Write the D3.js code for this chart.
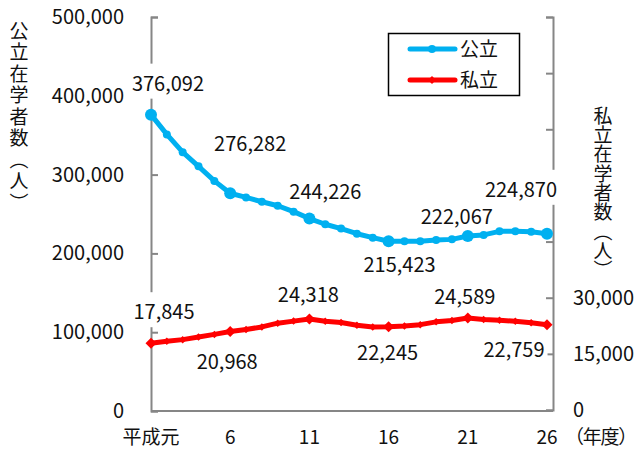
<!DOCTYPE html>
<html>
<head>
<meta charset="utf-8">
<script src="https://cdn.jsdelivr.net/npm/d3@7"></script>
<style>
  body { margin: 0; background: #fff; }
  svg { font-family: "Noto Sans CJK JP", "Noto Sans", sans-serif; }
</style>
</head>
<body>
<svg id="chart" width="636" height="450"></svg>
<script>
// 年度 (平成元〜26)
const years = ["平成元", "2", "3", "4", "5", "6", "7", "8", "9", "10", "11", "12", "13",
  "14", "15", "16", "17", "18", "19", "20", "21", "22", "23", "24", "25", "26"];
const tickYears = ["平成元", "6", "11", "16", "21", "26"];

// 公立在学者数
const publicCounts = [376092, 351000, 328500, 310500, 292000, 276282, 271000, 265500, 260500,
  253000, 244226, 237000, 231500, 225000, 220000, 215423, 215300, 215300, 217000, 217800,
  222067, 223500, 228000, 228200, 227500, 224870];
// 私立在学者数
const privateCounts = [17845, 18350, 18800, 19500, 20200, 20968, 21500, 22200, 23200, 23750,
  24318, 23700, 23400, 22650, 22200, 22245, 22450, 22800, 23550, 23900, 24589, 24200, 24000,
  23700, 23300, 22759];

const leftTicks = [0, 100000, 200000, 300000, 400000, 500000];
const rightTicks = [0, 15000, 30000, 45000, 60000, 75000, 90000, 105000];
const rightTickLabels = [0, 15000, 30000];
const labeledYears = ["平成元", "6", "11", "16", "21", "26"];

// label placement relative to its point (layout only)
const publicLabelShift = [[17, -31], [20, -49], [16, -27], [11, 24], [-11, -19], [-26, -44]];
const privateLabelShift = [[13, -31], [-3, 30], [-1, -24], [-1, 26], [-3, -21], [-33, 25]];

const blue = "#00B0F0", red = "#FF0000", grid = "#868686";

const svg = d3.select("#chart");
const plotLeft = 151, plotRight = 553, plotTop = 17, plotBottom = 411;

const x = d3.scalePoint().domain(years).range([151, 547]);
const yL = d3.scaleLinear().domain([0, 500000]).range([plotBottom, plotTop]);
const yR = d3.scaleLinear().domain([0, 105000]).range([plotBottom - 1, plotTop]);
const fmt = d3.format(",");

// axes frame
svg.append("line").attr("x1", plotLeft).attr("x2", plotRight).attr("y1", plotBottom).attr("y2", plotBottom)
  .attr("stroke", grid).attr("stroke-width", 2);

const gL = svg.append("g").attr("transform", `translate(${plotLeft},0)`)
  .call(d3.axisRight(yL).tickValues(leftTicks).tickSize(7).tickFormat(""));
const gR = svg.append("g").attr("transform", `translate(${plotRight},0)`)
  .call(d3.axisLeft(yR).tickValues(rightTicks).tickSize(7).tickFormat(""));
[gL, gR].forEach(g => {
  g.select(".domain").attr("stroke", grid).attr("stroke-width", 2);
  g.selectAll(".tick line").attr("stroke", grid).attr("stroke-width", 2);
});

// tick labels
svg.append("g").selectAll("text").data(leftTicks).join("text")
  .attr("x", 124).attr("y", d => yL(d)).attr("dy", "0.35em")
  .attr("text-anchor", "end").attr("font-size", 20).attr("fill", "#111")
  .text(fmt);
svg.append("g").selectAll("text").data(rightTickLabels).join("text")
  .attr("x", 573).attr("y", d => yR(d)).attr("dy", "0.35em")
  .attr("font-size", 20).attr("fill", "#111")
  .text(fmt);
svg.append("g").selectAll("text").data(tickYears).join("text")
  .attr("x", d => x(d)).attr("y", 437).attr("dy", "0.35em")
  .attr("text-anchor", "middle").attr("font-size", 19).attr("fill", "#111")
  .text(d => d);
svg.append("text").attr("x", 565).attr("y", 437).attr("dy", "0.35em")
  .attr("font-size", 19).attr("letter-spacing", -1.25).attr("fill", "#111")
  .text("（年度）");

// axis titles (vertical)
svg.append("text").attr("x", 19).attr("y", 21)
  .style("writing-mode", "vertical-rl").attr("font-size", 19)
  .attr("letter-spacing", 2.5).attr("fill", "#111")
  .text("公立在学者数（人）");
svg.append("text").attr("x", 603).attr("y", 106)
  .style("writing-mode", "vertical-rl").attr("font-size", 19)
  .attr("letter-spacing", 0.3).attr("fill", "#111")
  .text("私立在学者数（人）");

// data label items
function labelItems(values, yScale, shifts) {
  return labeledYears.map((yr, k) => {
    const i = years.indexOf(yr);
    return { v: values[i], cx: x(yr) + shifts[k][0], cy: yScale(values[i]) + shifts[k][1] };
  });
}
const allLabels = labelItems(publicCounts, yL, publicLabelShift)
  .concat(labelItems(privateCounts, yR, privateLabelShift));

// white label backgrounds (hide the axis lines behind the labels)
const boxLayer = svg.append("g");

// series
const lineL = d3.line().x((d, i) => x(years[i])).y(d => yL(d));
const lineR = d3.line().x((d, i) => x(years[i])).y(d => yR(d));

svg.append("path").datum(publicCounts).attr("d", lineL)
  .attr("fill", "none").attr("stroke", blue).attr("stroke-width", 5).attr("stroke-linejoin", "round");
svg.append("g").selectAll("circle").data(publicCounts).join("circle")
  .attr("cx", (d, i) => x(years[i])).attr("cy", d => yL(d))
  .attr("r", (d, i) => labeledYears.includes(years[i]) ? 6 : 4)
  .attr("fill", blue);

svg.append("path").datum(privateCounts).attr("d", lineR)
  .attr("fill", "none").attr("stroke", red).attr("stroke-width", 5).attr("stroke-linejoin", "round");
const diamond = d3.symbol().type(d3.symbolDiamond2);
svg.append("g").selectAll("path").data(privateCounts).join("path")
  .attr("transform", (d, i) => `translate(${x(years[i])},${yR(d)})`)
  .attr("d", (d, i) => diamond.size(labeledYears.includes(years[i]) ? 78 : 36)())
  .attr("fill", red);

// label texts
const texts = svg.append("g").selectAll("text").data(allLabels).join("text")
  .attr("x", d => d.cx).attr("y", d => d.cy).attr("dy", "0.35em")
  .attr("text-anchor", "middle").attr("font-size", 20).attr("fill", "#111")
  .text(d => fmt(d.v));
texts.each(function (d) {
  const b = this.getBBox();
  boxLayer.append("rect").attr("fill", "#fff")
    .attr("x", b.x - 3).attr("y", d.cy - 20).attr("width", b.width + 6).attr("height", 35);
});

// legend
const lg = svg.append("g");
lg.append("rect").attr("x", 388.5).attr("y", 33.5).attr("width", 131).attr("height", 62)
  .attr("fill", "#fff").attr("stroke", "#000").attr("stroke-width", 1.5);
const legendItems = [
  { name: "公立", color: blue, y: 49, mark: "c" },
  { name: "私立", color: red, y: 80, mark: "d" }
];
const li = lg.selectAll("g").data(legendItems).join("g");
li.append("line").attr("x1", 410).attr("x2", 455).attr("y1", d => d.y).attr("y2", d => d.y)
  .attr("stroke", d => d.color).attr("stroke-width", 5).attr("stroke-linecap", "round");
li.append("path")
  .attr("transform", d => `translate(432,${d.y})`)
  .attr("d", d => d.mark === "c" ? d3.symbol().type(d3.symbolCircle).size(50)() : diamond.size(40)())
  .attr("fill", d => d.color);
li.append("text").attr("x", 460).attr("y", d => d.y).attr("dy", "0.35em")
  .attr("font-size", 19).attr("fill", "#111").text(d => d.name);
</script>
</body>
</html>
